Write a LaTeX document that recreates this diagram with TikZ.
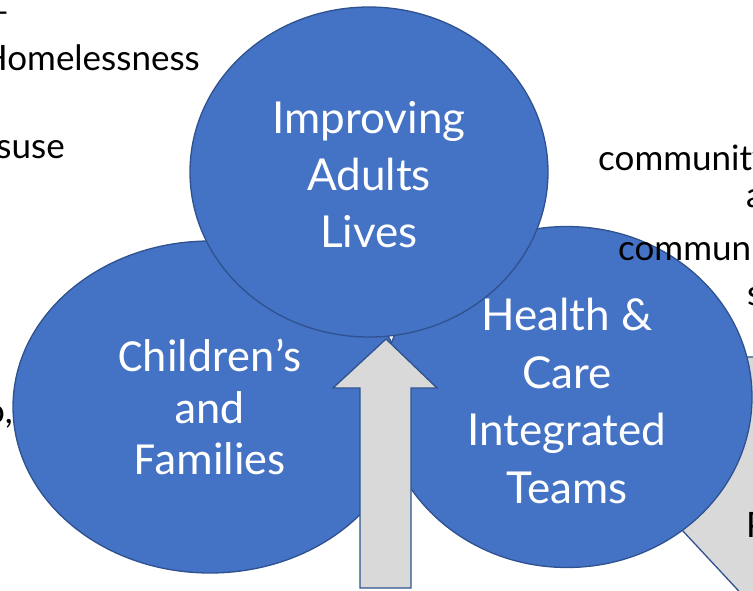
\documentclass[tikz,border=0pt]{standalone}
\usepackage{fontspec}
\setmainfont{Lato}
\newfontfamily\calibri{Carlito}
\usepackage{tikz}
\usetikzlibrary{shapes.geometric, positioning}
\definecolor{myblue}{RGB}{68,114,196}
\definecolor{myborder}{RGB}{47,82,143}
\definecolor{mygrey}{RGB}{217,217,217}
\tikzset{
  bubble/.style={ellipse, draw=myborder, fill=myblue, line width=1.3pt, inner sep=0pt},
  bubbletext/.style={align=center, text=white, inner sep=0pt},
  greyarrow/.style={draw=myborder, fill=mygrey, line width=1.3pt, line join=miter},
  sidetext/.style={font=\fontsize{35}{40}\selectfont, text=black, inner sep=0pt}
}

\begin{document}
\begin{tikzpicture}[x=1pt, y=-1pt]
  \useasboundingbox (0,0) rectangle (753,590);
  \clip (0,0) rectangle (753,590);

  % --- Diagonal arrow behind the right circle ---
  \draw[greyarrow] (682,530) -- (775,630) -- (775,357) -- (700,357) -- cycle;

  % --- Circles ---
  \node[bubble, minimum width=394pt, minimum height=332pt] (kids) at (210,407) {};
  \node[bubble, minimum width=370pt, minimum height=341pt] (health) at (567,397) {};
  \node[bubble, minimum width=358pt, minimum height=330pt] (adults) at (369,172) {};

  \node[bubbletext, font=\calibri\fontsize{46}{51.5}\selectfont]
    (kidstext) at (kids.center) {Children’s\\and\\Families};
  \node[bubbletext, font=\fontsize{44}{57.5}\selectfont]
    (healthtext) at ([yshift=-4pt]health.center) {Health \&\\Care\\Integrated\\Teams};
  \node[bubbletext, font=\fontsize{44}{57}\selectfont]
    (adultstext) at ([yshift=-3pt]adults.center) {Improving\\Adults\\Lives};

  % --- Arrow up into the top circle ---
  \draw[greyarrow] (360,588) -- (360,388) -- (333,388) -- (386,339)
    -- (437,388) -- (411,388) -- (411,588) -- cycle;

  % --- Text cut off at the slide edges ---
  \node[sidetext, anchor=base east] (dash) at (10,23) {–};
  \node[sidetext, anchor=base east] (homeless) at (200,70) {Homelessness};
  \node[sidetext, anchor=base east] (misuse) at (65,158) {suse};
  \node[sidetext, anchor=base east] (comma) at (13,423) {o,};
  \node[sidetext, anchor=base west] (comm1) at (598,170) {community};
  \node[sidetext, anchor=base west] (and) at (746,207) {a};
  \node[sidetext, anchor=base west] (comm2) at (618,260) {communi};
  \node[sidetext, anchor=base west] (sfrag) at (747,305) {s};
  \node[sidetext, anchor=base west] (pfrag) at (746,537) {P};
\end{tikzpicture}
\end{document}
